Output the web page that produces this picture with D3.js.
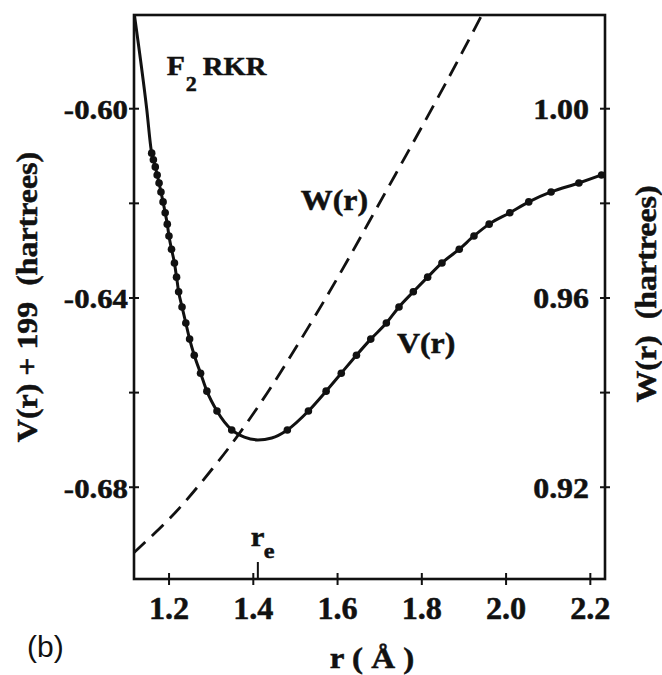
<!DOCTYPE html>
<html>
<head>
<meta charset="utf-8">
<script src="https://cdn.jsdelivr.net/npm/d3@7"></script>
<style>
  body { margin: 0; background: #fff; }
</style>
</head>
<body>
<div id="chart"></div>
<script>
// F2 RKR turning points: V(r) + 199 in hartrees, r in Angstrom
const levelV = [-0.6680, -0.6640, -0.6598, -0.6560, -0.6522, -0.6488, -0.6454, -0.6420, -0.6388, -0.6357, -0.6327,
	-0.6298, -0.6270, -0.6245, -0.6221, -0.6198, -0.6177, -0.6158, -0.6141, -0.6124, -0.6109, -0.6095];
const rInner = [1.350, 1.315, 1.291, 1.276, 1.261, 1.250, 1.241, 1.232, 1.224, 1.219, 1.214,
	1.207, 1.201, 1.197, 1.192, 1.187, 1.182, 1.1775, 1.173, 1.1685, 1.164, 1.160];
const rOuter = [1.482, 1.532, 1.574, 1.610, 1.646, 1.680, 1.717, 1.747, 1.781, 1.815, 1.849,
	1.890, 1.925, 1.961, 2.010, 2.055, 2.108, 2.174, 2.228, null, null, null];

// where the solid curve runs on past the dots
const curveR = [1.119, 1.148, 1.380, 1.412, 1.445, 2.240];
const curveV = [-0.5803, -0.6000, -0.6695, -0.6701, -0.6697, -0.6137];

// W(r), dashed, right-hand scale
const wR = [1.117, 1.186, 1.233, 1.304, 1.352, 1.423, 1.494, 1.574, 1.636, 1.676, 1.771, 1.866, 1.946];
const wW = [0.9060, 0.9118, 0.9162, 0.9238, 0.9293, 0.9383, 0.9482, 0.9600, 0.9696, 0.9760, 0.9912, 1.0066, 1.0201];

const xTicks = [1.2, 1.4, 1.6, 1.8, 2.0, 2.2];
const vTicks = [-0.68, -0.66, -0.64, -0.62, -0.60];
const vLabels = [-0.68, -0.64, -0.60];
const wTicks = [0.92, 0.94, 0.96, 0.98, 1.00];
const wLabels = [0.92, 0.96, 1.00];
const rEq = 1.412;

const W = 662, H = 675;
const margin = { top: 15, right: 57, bottom: 96, left: 134 };
const width = W - margin.left - margin.right;
const height = H - margin.top - margin.bottom;
const SX = 1.1; // the scanned lettering is wide
const SERIF = "'Liberation Serif', 'Times New Roman', serif";
const INK = '#111';

const svg = d3.select('#chart').append('svg').attr('width', W).attr('height', H);
const g = svg.append('g').attr('transform', `translate(${margin.left},${margin.top})`);

const x = d3.scaleLinear().domain([1.118, 2.236]).range([0, width]);
const yV = d3.scaleLinear().domain([-0.6995, -0.5803]).range([height, 0]);
const yW = d3.scaleLinear().domain([0.9005, 1.0197]).range([height, 0]);

g.append('clipPath').attr('id', 'plot')
	.append('rect').attr('width', width).attr('height', height);

// axes: ticks cross the frame line
function tidy(axis, fs, sx) {
	axis.attr('font-family', SERIF);
	axis.select('.domain').remove();
	axis.selectAll('.tick line').attr('stroke', INK).attr('stroke-width', 2);
	axis.selectAll('.tick text')
		.attr('fill', INK)
		.attr('stroke', INK)
		.attr('stroke-width', 0.5)
		.style('font-family', SERIF)
		.style('font-weight', 'bold')
		.style('font-size', fs + 'px')
		.attr('transform', `scale(${sx},1)`);
}

const axL = g.append('g')
	.call(d3.axisLeft(yV).tickValues(vTicks).tickSize(5)
		.tickFormat((d) => (vLabels.includes(d) ? d.toFixed(2) : '')));
tidy(axL, 28, SX);
axL.selectAll('.tick line').attr('x1', -5).attr('x2', 5);
axL.selectAll('.tick text').attr('x', -6 / SX).attr('y', 1.5).attr('dy', '0.32em');

const axR = g.append('g').attr('transform', `translate(${width},0)`)
	.call(d3.axisRight(yW).tickValues(wTicks).tickSize(5)
		.tickFormat((d) => (wLabels.includes(d) ? d.toFixed(2) : '')));
tidy(axR, 29, SX);
axR.selectAll('.tick line').attr('x1', -5).attr('x2', 5);
axR.selectAll('.tick text').attr('text-anchor', 'end').attr('x', -16 / SX).attr('y', 1).attr('dy', '0.32em');

const axB = g.append('g').attr('transform', `translate(0,${height})`)
	.call(d3.axisBottom(x).tickValues(xTicks).tickSize(6).tickFormat((d) => d.toFixed(1)));
tidy(axB, 31, 1.04);
axB.selectAll('.tick line').attr('y1', -6).attr('y2', 6);
axB.selectAll('.tick text').attr('y', 18).attr('dy', '0.71em');

// r_e marker
g.append('line')
	.attr('x1', x(rEq)).attr('x2', x(rEq))
	.attr('y1', height - 17).attr('y2', height)
	.attr('stroke', INK).attr('stroke-width', 2);

// frame
g.append('rect')
	.attr('width', width).attr('height', height)
	.attr('fill', 'none').attr('stroke', INK).attr('stroke-width', 2.6);

const plot = g.append('g').attr('clip-path', 'url(#plot)');

// V(r): solid line through the RKR points
const dots = levelV.flatMap((v, i) => [ [ rInner[i], v ], [ rOuter[i], v ] ]).filter((d) => d[0] != null);
const vPts = dots.concat(curveR.map((r, i) => [ r, curveV[i] ])).sort((a, b) => a[0] - b[0]);

plot.append('path')
	.attr('d', d3.line().curve(d3.curveMonotoneX)(vPts.map((d) => [ x(d[0]), yV(d[1]) ])))
	.attr('fill', 'none').attr('stroke', INK).attr('stroke-width', 3);

plot.selectAll('circle')
	.data(dots)
	.enter()
	.append('circle')
	.attr('cx', (d) => x(d[0]))
	.attr('cy', (d) => yV(d[1]))
	.attr('r', 3.8)
	.attr('fill', INK);

// W(r): dashed
plot.append('path')
	.attr('d', d3.line().curve(d3.curveCatmullRom)(wR.map((r, i) => [ x(r), yW(wW[i]) ])))
	.attr('fill', 'none').attr('stroke', INK).attr('stroke-width', 2.8)
	.attr('stroke-dasharray', '16,9');

// text
function label(parent, str, px, py, fs, opts = {}) {
	return parent.append('text')
		.attr('transform', `translate(${px},${py}) rotate(${opts.rotate || 0}) scale(${opts.sx || SX},1)`)
		.attr('text-anchor', opts.anchor || 'start')
		.attr('fill', INK)
		.attr('stroke', opts.weight ? 'none' : INK)
		.attr('stroke-width', 0.5)
		.style('font-family', opts.family || SERIF)
		.style('font-weight', opts.weight || 'bold')
		.style('font-size', fs + 'px')
		.style('white-space', 'pre')
		.text(str);
}

label(g, 'F', x(1.196), yV(-0.5930), 27);
label(g, '2', x(1.196) + 19, yV(-0.5930) + 16, 20);
label(g, 'RKR', x(1.196) + 36, yV(-0.5930), 26);
label(g, 'W(r)', x(1.514), yV(-0.6215), 29);
label(g, 'V(r)', x(1.742), yV(-0.6517), 29);
label(g, 'r', x(rEq) - 7, height - 33, 28);
label(g, 'e', x(rEq) + 6, height - 21, 22);

label(svg, 'V(r) + 199  (hartrees)', 37, 297, 29, { rotate: -90, anchor: 'middle' });
label(svg, 'W(r)  (hartrees)', 656, 294, 29, { rotate: -90, anchor: 'middle' });
label(svg, 'r ( Å )', 372, 668, 30, { anchor: 'middle' });
label(svg, '(b)', 27, 657, 30, { sx: 1, weight: 'normal', family: "'Liberation Sans', Arial, sans-serif" });
</script>
</body>
</html>
